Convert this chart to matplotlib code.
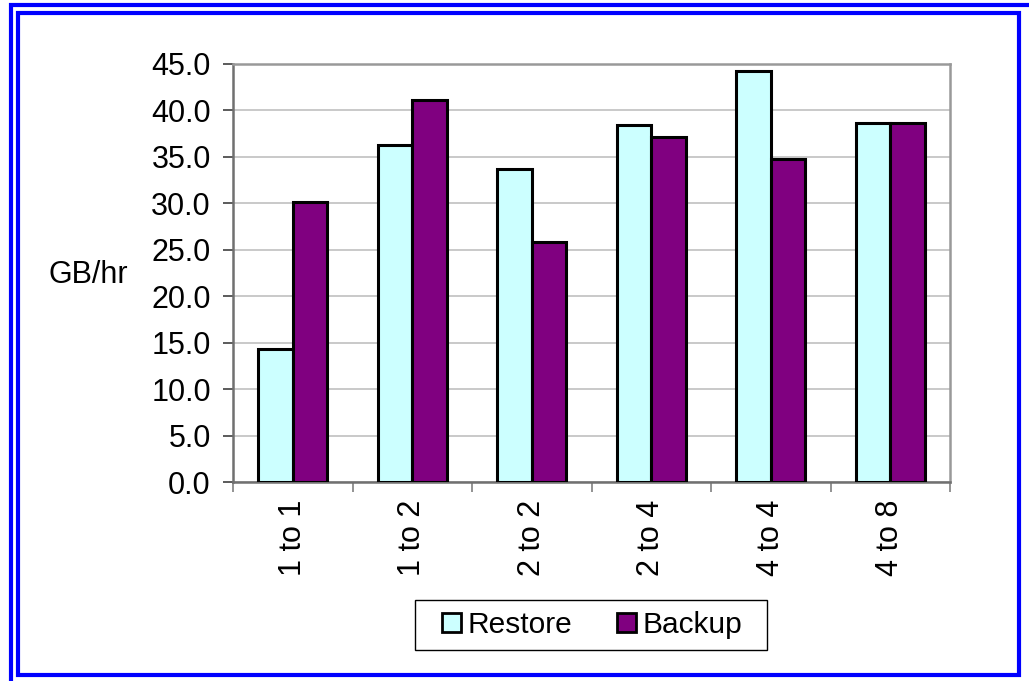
import matplotlib
matplotlib.use("Agg")
import matplotlib.pyplot as plt
import numpy as np
from matplotlib.patches import Rectangle

categories = ["1 to 1", "1 to 2", "2 to 2", "2 to 4", "4 to 4", "4 to 8"]
restore = [14.3, 36.3, 33.7, 38.4, 44.2, 38.7]
backup = [30.1, 41.1, 25.8, 37.1, 34.8, 38.6]
yticks = [0, 5, 10, 15, 20, 25, 30, 35, 40, 45]

plt.rcParams['font.family'] = ['Liberation Sans', 'DejaVu Sans']
FS = 22

W, H = 1029, 681
fig = plt.figure(figsize=(W / 100, H / 100), dpi=100)
ax = fig.add_axes([233 / W, 1 - 482 / H, (950 - 233) / W, (482 - 64) / H])

x = np.arange(len(categories))
bw = 0.29
ax.bar(x - bw / 2, restore, bw, color='#CCFFFF', edgecolor='black', linewidth=2.2, label='Restore', zorder=3)
ax.bar(x + bw / 2, backup, bw, color='#800080', edgecolor='black', linewidth=2.2, label='Backup', zorder=3)

ax.set_xlim(-0.5, len(categories) - 0.5)
ax.set_ylim(0, 45)
ax.set_yticks(yticks)
ax.set_yticklabels([f"{v:.1f}" for v in yticks], fontsize=FS)
ax.yaxis.grid(True, color='#C0C0C0', linewidth=1.2, zorder=0)
ax.set_axisbelow(True)

ax.set_xticks(x)
ax.set_xticklabels(categories, rotation=90, fontsize=FS)
ax.set_xticks(np.arange(-0.5, len(categories)), minor=True)
ax.tick_params(axis='x', which='major', length=0, pad=13)
ax.tick_params(axis='x', which='minor', length=7, width=1.2, color='#808080', direction='out')
ax.tick_params(axis='y', length=7, width=1.2, color='#404040', direction='out', pad=9)

for s in ['top', 'right']:
    ax.spines[s].set_color('#999999')
    ax.spines[s].set_linewidth(1.8)
for s in ['left', 'bottom']:
    ax.spines[s].set_color('#707070')
    ax.spines[s].set_linewidth(1.8)

fig.text(88 / W, 1 - 275 / H, "GB/hr", fontsize=FS, ha='center', va='center')

leg = fig.legend(loc='center', bbox_to_anchor=(592 / W, 1 - 625 / H), ncol=2, fontsize=21.5,
                 frameon=False, handlelength=0.65, handleheight=0.65,
                 handletextpad=0.2, columnspacing=1.5, borderpad=0, borderaxespad=0)
for h in leg.legend_handles:
    h.set_linewidth(2.0)

# legend frame
fig.patches.append(Rectangle((415 / W, 1 - 650 / H), (767 - 415) / W, (650 - 600) / H, transform=fig.transFigure,
                             fill=False, edgecolor='black', linewidth=1.0))

# double blue border
fig.patches.append(Rectangle((11 / W, 1 - 683 / H), (1031 - 11) / W, (683 - 5) / H, transform=fig.transFigure,
                             fill=False, edgecolor='#0000FF', linewidth=3.0))
fig.patches.append(Rectangle((18 / W, 1 - 675 / H), (1019 - 18) / W, (675 - 13) / H, transform=fig.transFigure,
                             fill=False, edgecolor='#0000FF', linewidth=3.0))

fig.savefig("out.png", dpi=100)
